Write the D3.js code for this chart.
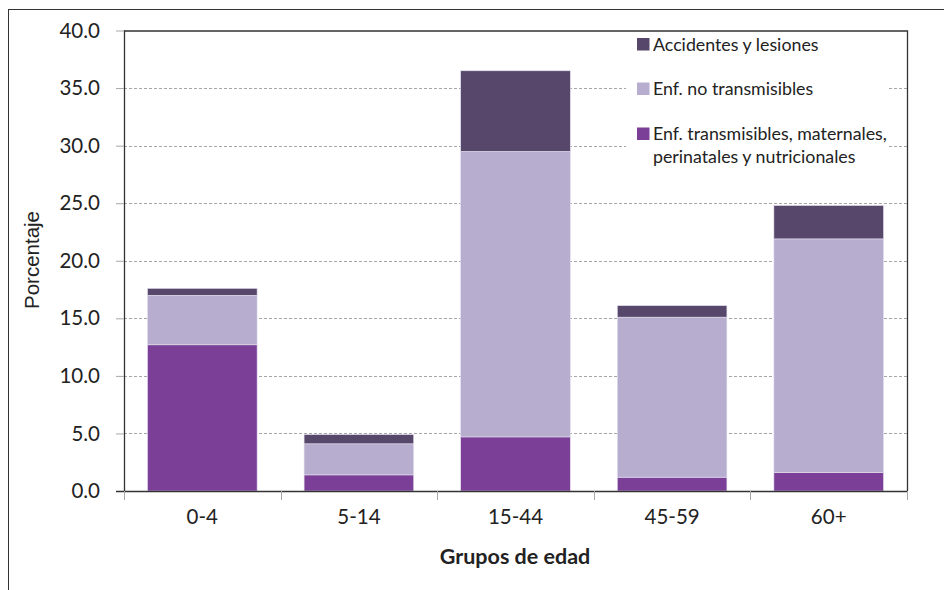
<!DOCTYPE html>
<html><head><meta charset="utf-8">
<script src="https://cdn.jsdelivr.net/npm/d3@7/dist/d3.min.js"></script>
<style>body{margin:0;background:#fff}svg{display:block}</style>
</head><body>
<svg id="c" width="944" height="590"></svg>
<script>
const categories = ["0-4","5-14","15-44","45-59","60+"];
const seriesNames = ["Enf. transmisibles, maternales, perinatales y nutricionales","Enf. no transmisibles","Accidentes y lesiones"];
const transmisibles = [12.7, 1.4, 4.7, 1.2, 1.6];
const noTransmisibles = [4.3, 2.7, 24.8, 13.9, 20.3];
const accidentes = [0.6, 0.8, 7.0, 1.0, 2.9];
const yTicks = [0,5,10,15,20,25,30,35,40];
const colors = ["#7b3f97","#b7aecf","#56476b"];

const svg = d3.select("#c");
const m = {l:124, r:907, t:30.5, b:491};
const x = d3.scaleBand().domain(categories).range([m.l, m.r]).paddingInner(0.3).paddingOuter(0.15);
const xb = d3.scaleBand().domain(categories).range([m.l, m.r]);
const y = d3.scaleLinear().domain([0,40]).range([m.b, m.t]);
const FONT = "Lato, 'Open Sans', sans-serif";

// outer frame
svg.append("rect").attr("x",8.5).attr("y",9.5).attr("width",1000).attr("height",700)
  .attr("fill","none").attr("stroke","#333").attr("stroke-width",1);

// gridlines
svg.append("g").selectAll("line").data(yTicks.filter(d=>d>0 && d<40)).join("line")
  .attr("x1",m.l).attr("x2",m.r).attr("y1",d=>Math.round(y(d))+0.5).attr("y2",d=>Math.round(y(d))+0.5)
  .attr("stroke","#a6a6a6").attr("stroke-dasharray","3,2").attr("stroke-width",1);

// stacked bars
const data = categories.map((c,i)=>({cat:c, s0:transmisibles[i], s1:noTransmisibles[i], s2:accidentes[i]}));
const stack = d3.stack().keys(["s0","s1","s2"])(data);
svg.append("g").selectAll("g").data(stack).join("g").attr("fill",(d,i)=>colors[i])
  .selectAll("rect").data(d=>d).join("rect")
  .attr("x",d=>x(d.data.cat)).attr("width",x.bandwidth())
  .attr("y",d=>y(d[1])).attr("height",d=>y(d[0])-y(d[1]))
  .attr("stroke","#e4e0ee").attr("stroke-width",0.6);

// legend background
svg.append("rect").attr("x",626).attr("y",32).attr("width",263).attr("height",140).attr("fill","#fff");
const leg = [
  {name:seriesNames[2], color:colors[2], y:50.5, lines:["Accidentes y lesiones"]},
  {name:seriesNames[1], color:colors[1], y:95, lines:["Enf. no transmisibles"]},
  {name:seriesNames[0], color:colors[0], y:140, lines:["Enf. transmisibles, maternales,","perinatales y nutricionales"]}
];
const lg = svg.append("g");
leg.forEach(l=>{
  lg.append("rect").attr("x",637).attr("y",l.y-12.5).attr("width",12.5).attr("height",12.5).attr("fill",l.color);
  const t = lg.append("text").attr("x",653).attr("y",l.y).attr("font-family",FONT)
    .attr("font-size",17.8).attr("fill","#222");
  l.lines.forEach((s,j)=>t.append("tspan").attr("x",653).attr("dy",j===0?0:22.5).text(s));
});

// plot area border (top/right)
svg.append("path").attr("d",`M${m.l},${m.t+0.5}H${m.r+0.5}V${m.b}`).attr("fill","none").attr("stroke","#333").attr("stroke-width",1.3);

// y axis
const ya = svg.append("g").attr("transform",`translate(${m.l},0)`)
  .call(d3.axisLeft(y).tickValues(yTicks).tickFormat(d3.format(".1f")).tickSize(8).tickPadding(16));
ya.select(".domain").attr("stroke","#333").attr("stroke-width",1.3).attr("d",`M0.5,${m.t}V${m.b}`);
ya.selectAll(".tick line").attr("stroke","#a6a6a6");
ya.selectAll(".tick text").attr("font-family",FONT).attr("font-size",20.5).attr("fill","#222");

// x axis
const xa = svg.append("g").attr("transform",`translate(0,${m.b})`)
  .call(d3.axisBottom(x).tickSize(0).tickPadding(18));
xa.select(".domain").attr("stroke","#333").attr("stroke-width",1.6).attr("d",`M${m.l-8},0.5H${m.r}`);
xa.selectAll(".tick text").attr("font-family",FONT).attr("font-size",20.5).attr("fill","#222");
// category boundary ticks
const bounds = categories.map(c=>xb(c)).concat([m.r]);
xa.append("g").selectAll("line").data(bounds).join("line")
  .attr("x1",d=>Math.round(d)+0.5).attr("x2",d=>Math.round(d)+0.5).attr("y1",0).attr("y2",9)
  .attr("stroke","#a6a6a6");

// axis titles
svg.append("text").attr("transform","translate(39,260) rotate(-90)").attr("text-anchor","middle")
  .attr("font-family","'Liberation Sans', Arial, sans-serif").attr("font-size",20.5).attr("fill","#222").text("Porcentaje");
svg.append("text").attr("x",515).attr("y",564).attr("text-anchor","middle")
  .attr("font-family",FONT).attr("font-weight","bold").attr("font-size",21.5).attr("fill","#222").text("Grupos de edad");
</script>
</body></html>
